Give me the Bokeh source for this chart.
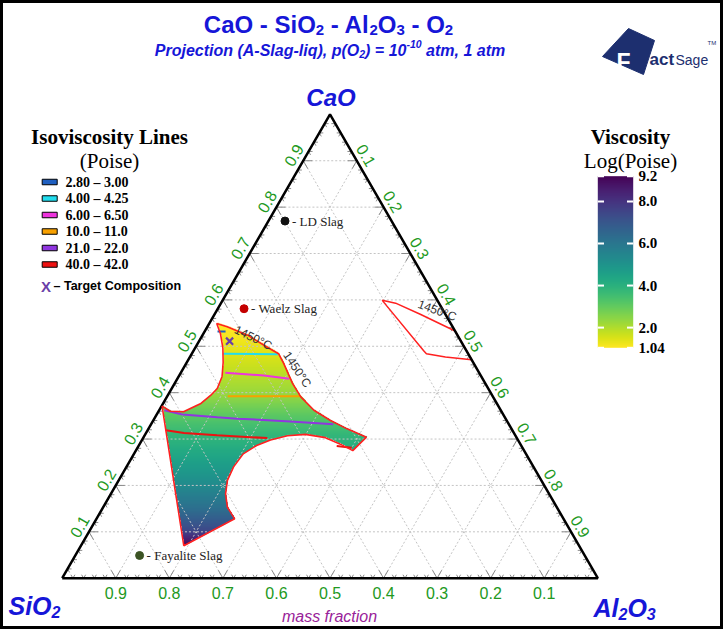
import numpy as np
from bokeh.plotting import figure
from bokeh.models import Range1d, LinearColorMapper, Label
from bokeh.palettes import Viridis256
from bokeh.embed import file_html
from bokeh.resources import INLINE
from bokeh.core.properties import value

# ---------------- data (mass fractions) ----------------
# liquid slag region at 1450 C, boundary given as CaO / Al2O3 fractions
liq_cao = [0.549, 0.542, 0.524, 0.498, 0.484, 0.463, 0.420, 0.391, 0.362, 0.340,
           0.322, 0.304, 0.275, 0.289, 0.303, 0.310, 0.307, 0.298, 0.286, 0.268,
           0.240, 0.211, 0.182, 0.153, 0.128, 0.070, 0.371, 0.360, 0.359, 0.376,
           0.394, 0.409, 0.435, 0.465, 0.496, 0.527]
liq_al2o3 = [0.014, 0.037, 0.084, 0.134, 0.162, 0.182, 0.220, 0.250, 0.289, 0.331,
             0.371, 0.416, 0.405, 0.375, 0.340, 0.299, 0.267, 0.240, 0.220, 0.204,
             0.200, 0.203, 0.214, 0.232, 0.258, 0.192, 0.001, 0.022, 0.047, 0.070,
             0.080, 0.085, 0.081, 0.068, 0.052, 0.032]

# second liquid pocket near the CaO-Al2O3 side (outline only)
liq2_cao = [0.599, 0.593, 0.569, 0.533, 0.471, 0.477, 0.484, 0.491]
liq2_al2o3 = [0.298, 0.326, 0.384, 0.467, 0.529, 0.477, 0.438, 0.429]

# viscosity shading: ln(viscosity / Poise) against CaO fraction
shade_cao = [0.070, 0.103, 0.146, 0.211, 0.312, 0.351, 0.392, 0.442, 0.485, 0.532, 0.550]
shade_lnv = [9.15, 7.40, 6.30, 5.10, 3.71, 3.07, 2.35, 1.84, 1.41, 1.06, 1.04]

# isoviscosity lines (Poise); each level may consist of several segments
iso_labels = ["2.80 – 3.00", "4.00 – 4.25", "6.00 – 6.50",
              "10.0 – 11.0", "21.0 – 22.0", "40.0 – 42.0"]
iso_colors = ["#1f5fc0", "#22ddee", "#ee33dd", "#f7a000", "#9036e0", "#ee1111"]
iso_cao = [
    [[0.532, 0.532]],
    [[0.484, 0.483]],
    [[0.443, 0.437, 0.430]],
    [[0.392, 0.392]],
    [[0.362, 0.353, 0.347, 0.344, 0.338, 0.332]],
    [[0.319, 0.313, 0.308, 0.304, 0.302], [0.285, 0.281]],
]
iso_al2o3 = [
    [[0.024, 0.039]],
    [[0.059, 0.161]],
    [[0.083, 0.158, 0.209]],
    [[0.113, 0.249]],
    [[0.010, 0.048, 0.116, 0.155, 0.257, 0.340]],
    [[0.034, 0.071, 0.135, 0.200, 0.232], [0.370, 0.400]],
]

# target composition
target_cao, target_al2o3 = 0.511, 0.057

# industrial slags
slag_names = ["LD Slag", "Waelz Slag", "Fayalite Slag"]
slag_cao = [0.770, 0.581, 0.049]
slag_al2o3 = [0.031, 0.049, 0.120]
slag_colors = ["#111111", "#c40000", "#3b5323"]

# axis ticks
tick_vals = [0.1, 0.2, 0.3, 0.4, 0.5, 0.6, 0.7, 0.8, 0.9]
cbar_ticks = [1.04, 2.0, 4.0, 6.0, 8.0, 9.2]
cbar_labels = ["1.04", "2.0", "4.0", "6.0", "8.0", "9.2"]
visc_low, visc_high = 1.04, 9.2

# ---------------- geometry ----------------
W, H = 723, 629
X0, Y0, K = 61.7, 577.7, 535.6      # page position / size of the triangle
R3 = np.sqrt(3) / 2


def tern(cao, al2o3):
    cao = np.asarray(cao, float)
    al = np.asarray(al2o3, float)
    return al + cao / 2, cao * R3


def P(X, Y):
    """page pixel -> plot units"""
    return (X - X0) / K, (Y0 - Y) / K


def inside_polygon(x, y, px, py):
    res = np.zeros(x.shape, bool)
    n = len(px)
    j = n - 1
    for i in range(n):
        xi, yi, xj, yj = px[i], py[i], px[j], py[j]
        cond = (yi > y) != (yj > y)
        xint = (xj - xi) * (y - yi) / (yj - yi + 1e-15) + xi
        res ^= cond & (x < xint)
        j = i
    return res


p = figure(width=W, height=H,
           x_range=Range1d(-X0 / K, (W - X0) / K),
           y_range=Range1d((Y0 - H) / K, Y0 / K),
           output_backend="svg", toolbar_location=None,
           x_axis_type=None, y_axis_type=None, min_border=0)
p.outline_line_color = "black"
p.outline_line_width = 5
p.background_fill_color = "white"
p.border_fill_color = "white"

mapper = LinearColorMapper(palette=Viridis256[::-1], low=visc_low, high=visc_high,
                           nan_color="rgba(0,0,0,0)")

# ---- shaded liquid region ----
lu, lv = tern(liq_cao, liq_al2o3)
step = 0.5 / K
gu = np.arange(lu.min() - step, lu.max() + step, step)
gv = np.arange(lv.min() - step, lv.max() + step, step)
UU, VV = np.meshgrid(gu + step / 2, gv + step / 2)
inside = inside_polygon(UU, VV, lu, lv)
field = np.interp(VV / R3, shade_cao, shade_lnv)
field[~inside] = np.nan
p.image(image=[field], x=gu[0], y=gv[0], dw=len(gu) * step, dh=len(gv) * step,
        color_mapper=mapper)

# ---- dotted grid ----
gxs, gys = [], []
for f in tick_vals:
    for c, a in (([f, f], [0, 1 - f]), ([0, 1 - f], [f, f]), ([0, 1 - f], [1 - f, 0])):
        u, v = tern(c, a)
        gxs.append(list(u))
        gys.append(list(v))
p.multi_line(gxs, gys, line_color="#c4c4c4", line_width=1, line_dash="2 2")

# ---- edge ticks ----
txs, tys = [], []
for j in range(1, 50):
    f = j * 0.02
    L = 9 / K if j % 5 == 0 else 4 / K
    # bottom edge (CaO = 0)
    u, v = tern(0, f)
    for du, dv in ((0.5, R3), (-0.5, R3)):
        txs.append([u, u + du * L]); tys.append([v, v + dv * L])
    # left edge (Al2O3 = 0)
    u, v = tern(f, 0)
    for du, dv in ((1, 0), (0.5, -R3)):
        txs.append([u, u + du * L]); tys.append([v, v + dv * L])
    # right edge (SiO2 = 0)
    u, v = tern(1 - f, f)
    for du, dv in ((-1, 0), (-0.5, -R3)):
        txs.append([u, u + du * L]); tys.append([v, v + dv * L])
p.multi_line(txs, tys, line_color="#8a8a8a", line_width=1)

# ---- second liquid pocket ----
u2, v2 = tern(liq2_cao, liq2_al2o3)
p.patch(list(u2), list(v2), fill_color=None, line_color="#ff2020", line_width=1.5)

# ---- triangle ----
tu, tv = tern([0, 0, 1, 0], [0, 1, 0, 0])
p.line(list(tu), list(tv), line_color="black", line_width=2.5)

# ---- isoviscosity lines ----
for cs, als, col in zip(iso_cao, iso_al2o3, iso_colors):
    xs, ys = [], []
    for c, a in zip(cs, als):
        u, v = tern(c, a)
        xs.append(list(u)); ys.append(list(v))
    p.multi_line(xs, ys, line_color=col, line_width=2)

# outline of main liquid region
p.patch(list(lu), list(lv), fill_color=None, line_color="#ff2020", line_width=1.6)

# target composition
tu_, tv_ = tern(target_cao, target_al2o3)
p.scatter([float(tu_)], [float(tv_)], marker="x", size=10, line_color="#6a3fa8", line_width=2.2)

# industrial slags
su, sv = tern(slag_cao, slag_al2o3)
p.scatter(list(su), list(sv), size=8, fill_color=slag_colors, line_color=slag_colors)
p.text(list(su + 7 / K), list(sv), text=["- " + n for n in slag_names],
       text_font=value("Liberation Serif"), text_font_size="13px",
       text_baseline="middle", text_align="left", text_color="#222222")

# ---- axis tick labels ----
green = "#229922"
off = 11 / K
bu, bv = tern([0] * 9, [1 - s for s in tick_vals])
p.text(list(bu), list(bv - 14.3 / K), text=[f"{s:.1f}" for s in tick_vals],
       text_font=value("Liberation Sans"), text_font_size="16px", text_color=green,
       text_align="center", text_baseline="middle")
lu_, lv_ = tern(tick_vals, [0] * 9)
p.text(list(lu_ - R3 * off), list(lv_ + 0.5 * off), text=[f"{c:.1f}" for c in tick_vals],
       angle=np.pi / 3, text_font=value("Liberation Sans"), text_font_size="16px",
       text_color=green, text_align="center", text_baseline="middle")
ru_, rv_ = tern([1 - a for a in tick_vals], tick_vals)
p.text(list(ru_ + R3 * off), list(rv_ + 0.5 * off), text=[f"{a:.1f}" for a in tick_vals],
       angle=-np.pi / 3, text_font=value("Liberation Sans"), text_font_size="16px",
       text_color=green, text_align="center", text_baseline="middle")

# ---- text helpers ----
ARIAL_B = {' ': 278, '(': 333, ')': 333, ',': 278, '-': 333, '=': 584, 'A': 722,
           'C': 722, 'O': 778, 'P': 667, 'S': 667, 'a': 556, 'c': 556, 'e': 556,
           'g': 611, 'i': 278, 'j': 278, 'l': 278, 'm': 889, 'n': 611, 'o': 611,
           'p': 611, 'q': 611, 'r': 389, 't': 333}


def tw(s, size):
    return sum(ARIAL_B.get(ch, 556) for ch in s) / 1000 * size


def label(X, Y, text, size, color="black", font="Liberation Sans", style="normal",
          align="left", baseline="alphabetic", angle=0.0):
    x, y = P(X, Y)
    p.add_layout(Label(x=x, y=y, text=text, text_font=font, text_font_size=f"{size}px",
                       text_font_style=style, text_color=color, text_align=align,
                       text_baseline=baseline, angle=angle))


def rich(pieces, X, Y, color, style, center=True):
    """lay out text runs (text, size, baseline shift) one after another"""
    total = sum(tw(t, s) for t, s, _ in pieces)
    x = X - total / 2 if center else X
    for t, s, dy in pieces:
        lead = len(t) - len(t.lstrip(" "))
        label(x + tw(" " * lead, s), Y + dy, t.strip(" "), s, color=color, style=style)
        x += tw(t, s)


blue = "#1616d8"
rich([("CaO - SiO", 24, 0), ("2", 15, 5), (" - Al", 24, 0), ("2", 15, 5), ("O", 24, 0),
      ("3", 15, 5), (" - O", 24, 0), ("2", 15, 5)], 328, 24, blue, "bold")
rich([("Projection (A-Slag-liq), p(O", 16, 0), ("2", 10.5, 3), (") = 10", 16, 0),
      ("-10", 10.5, -7), (" atm, 1 atm", 16, 0)], 329.5, 50, blue, "bold italic")

# vertex names
rich([("CaO", 24, 0)], 330.5, 97, blue, "bold italic")
rich([("SiO", 25, 0), ("2", 16, 6)], 8, 605, blue, "bold italic", center=False)
rich([("Al", 25, 0), ("2", 16, 6), ("O", 25, 0), ("3", 16, 6)], 593, 607, blue,
     "bold italic", center=False)
label(329, 616, "mass fraction", 16, color="#992299", style="italic", align="center")

# isotherm labels
label(252.7, 337.3, "1450°C", 12, color="#333333", align="center", baseline="middle", angle=-0.454)
label(296.7, 369.0, "1450°C", 12, color="#333333", align="center", baseline="middle", angle=-0.977)
label(436.7, 310.0, "1450°C", 12, color="#333333", align="center", baseline="middle", angle=-0.349)

# ---- isoviscosity legend ----
label(109, 136, "Isoviscosity Lines", 21, font="Liberation Serif", style="bold", align="center")
label(109, 160, "(Poise)", 21, font="Liberation Serif", align="center")
for i, (lab, col) in enumerate(zip(iso_labels, iso_colors)):
    Yc = 181.5 + 16.5 * i
    x, y = P(49.2, Yc)
    p.rect([x], [y], width=15 / K, height=5.5 / K, fill_color=col, line_color="black",
           line_width=1)
    label(65, Yc, lab, 14, font="Liberation Serif", style="bold", baseline="middle")
label(45.5, 285.5, "X", 15, color="#6a3fa8", style="bold", align="center", baseline="middle")
label(53, 285.5, "– Target Composition", 12.5, style="bold", baseline="middle")

# ---- colour bar ----
label(630, 136, "Viscosity", 21, font="Liberation Serif", style="bold", align="center")
label(630, 160, "Log(Poise)", 21, font="Liberation Serif", align="center")
cb_top, cb_bot = 175.7, 347.3
bx0, by0 = P(597.3, cb_bot)
bx1, by1 = P(632.7, cb_top)
ramp = np.linspace(visc_low, visc_high, 256).reshape(256, 1)
p.image(image=[ramp], x=bx0, y=by0, dw=bx1 - bx0, dh=by1 - by0, color_mapper=mapper)
cxs, cys = [], []
for tv_, tl in zip(cbar_ticks, cbar_labels):
    Yt = cb_bot - (tv_ - visc_low) / (visc_high - visc_low) * (cb_bot - cb_top)
    for xa, xb in ((597.3, 603.5), (626.5, 632.7)):
        a0, b0 = P(xa, Yt)
        a1, _ = P(xb, Yt)
        cxs.append([a0, a1]); cys.append([b0, b0])
    label(638, Yt, tl, 15, font="Liberation Serif", style="bold", baseline="middle")
p.multi_line(cxs, cys, line_color="white", line_width=2)

# ---- FactSage mark ----
navy = "#1d2f6f"
lx, ly = zip(*[P(*pt) for pt in [(602, 56), (628, 28), (654, 40), (643, 74)]])
p.patch(list(lx), list(ly), fill_color=navy, line_color=navy)
label(616, 61, "F", 23, color="white", style="bold")
label(649, 59, "act", 17, color=navy, style="bold")
label(675, 59, "Sage", 14, color=navy)
label(707, 42, "TM", 6, color=navy)

open("out.html", "w").write(file_html(p, INLINE))
